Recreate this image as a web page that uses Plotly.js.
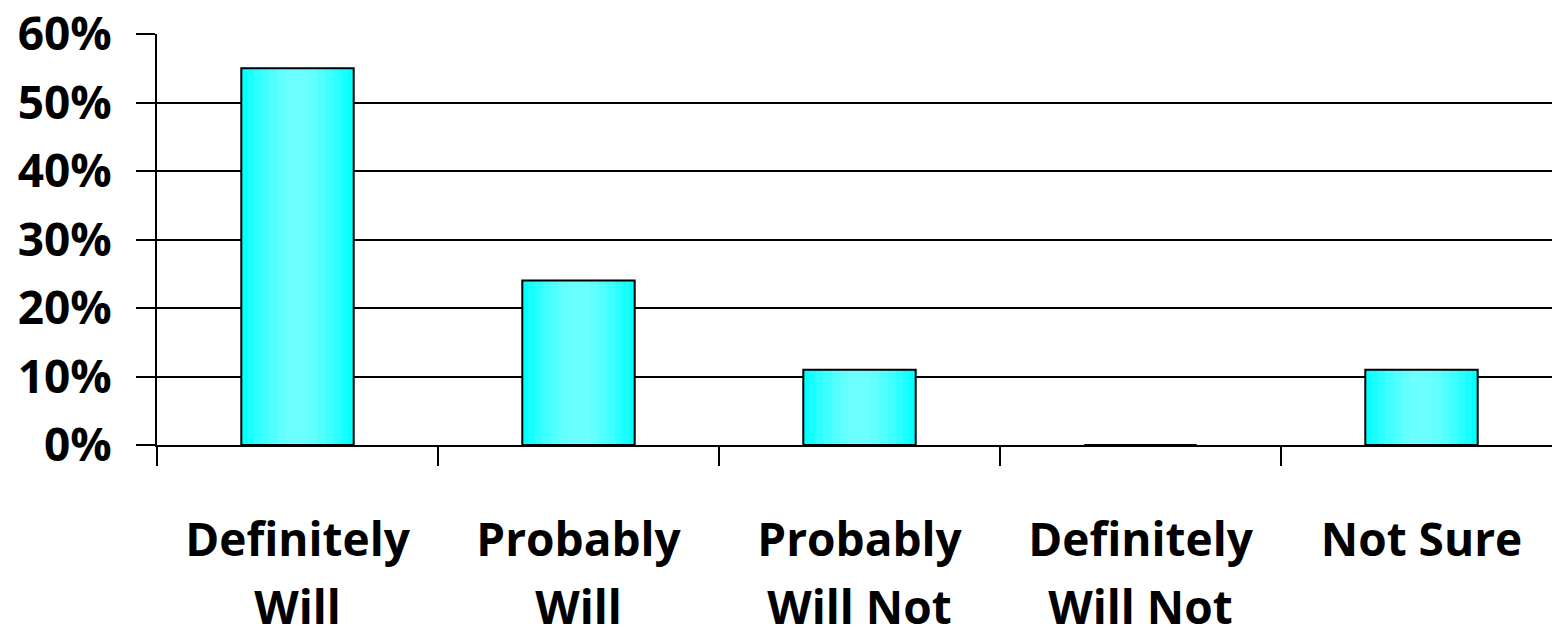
<!DOCTYPE html>
<html>
<head>
<meta charset="utf-8">
<script src="https://cdn.plot.ly/plotly-3.0.1.min.js"></script>
<style>html,body{margin:0;padding:0;overflow:hidden;background:#fff;}</style>
</head>
<body>
<div id="chart"></div>
<script>
// Data
const categories = ["Definitely Will", "Probably Will", "Probably Will Not", "Definitely Will Not", "Not Sure"];
const labelLine1 = ["Definitely", "Probably", "Probably", "Definitely", "Not Sure"];
const labelLine2 = ["Will", "Will", "Will Not", "Will Not", ""];
const shares = [0.55, 0.24, 0.11, 0, 0.11];
const yTicks = [0, 0.1, 0.2, 0.3, 0.4, 0.5, 0.6];

const FONT = "Open Sans, DejaVu Sans, sans-serif";
const BAR_W = 0.4;

// stepped gradient bands (edge -> centre)
const bands = [
  {w: 0.40, c: "#04FFFF"},
  {w: 0.36, c: "#18FFFF"},
  {w: 0.31, c: "#2CFFFF"},
  {w: 0.26, c: "#40FFFF"},
  {w: 0.20, c: "#52FFFF"},
  {w: 0.14, c: "#62FFFF"},
  {w: 0.08, c: "#6CFFFF"}
];

const traces = bands.map(b => ({
  type: "bar", x: categories, y: shares, width: b.w,
  marker: {color: b.c, line: {width: 0}},
  hoverinfo: "skip", showlegend: false
}));

// outline on top (on overlaid axis that carries the second label line)
traces.push({
  type: "bar", x: categories, y: shares, width: BAR_W,
  xaxis: "x2",
  marker: {color: "rgba(0,0,0,0)", line: {color: "#000", width: 2}},
  hoverinfo: "x+y", showlegend: false
});

const layout = {
  width: 1570, height: 639,
  margin: {l: 157, r: 8, t: 34, b: 194},
  paper_bgcolor: "#fff", plot_bgcolor: "#fff",
  barmode: "overlay",
  showlegend: false,
  font: {family: FONT, color: "#000"},
  xaxis: {
    type: "category",
    tickvals: categories, ticktext: labelLine1,
    tickson: "boundaries", ticks: "outside", ticklen: 19, tickwidth: 1.5, tickcolor: "#000",
    showline: true, linecolor: "#000", linewidth: 2,
    showgrid: false, zeroline: false,
    tickfont: {family: FONT, size: 46, weight: 700, color: "#000"},
    ticklabelstandoff: 54,
    fixedrange: true
  },
  xaxis2: {
    type: "category", overlaying: "x", matches: "x", anchor: "y", side: "bottom",
    tickvals: categories, ticktext: labelLine2,
    ticks: "", showline: false, showgrid: false, zeroline: false,
    tickfont: {family: FONT, size: 46, weight: 700, color: "#000"},
    ticklabelstandoff: 132,
    fixedrange: true
  },
  yaxis: {
    range: [0, 0.6],
    tickvals: yTicks, tickformat: ".0%",
    ticks: "outside", ticklen: 19, tickwidth: 2, tickcolor: "#000",
    showline: true, linecolor: "#000", linewidth: 2,
    showgrid: true, gridcolor: "#000", gridwidth: 2,
    zeroline: false,
    tickfont: {family: FONT, size: 46, weight: 700, color: "#000"},
    ticklabelstandoff: 15,
    fixedrange: true
  }
};

Plotly.newPlot("chart", traces, layout, {displayModeBar: false, staticPlot: true});
</script>
</body>
</html>
